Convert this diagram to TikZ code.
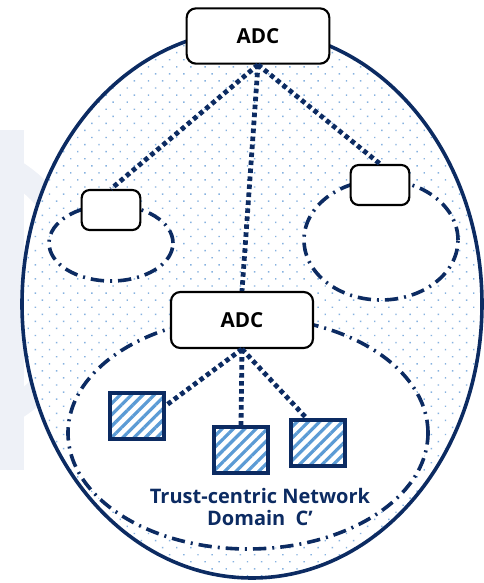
\documentclass[tikz,border=0pt]{standalone}
\usepackage{fontspec}
\setmainfont{Open Sans}
\usepackage{xcolor}
\usepackage{tikz}
\usetikzlibrary{positioning, shapes.geometric, patterns.meta}

\definecolor{navy}{HTML}{0C2B62}
\definecolor{dotblue}{HTML}{86B2E0}
\definecolor{hatchblue}{HTML}{5B9BD5}
\definecolor{wmgray}{HTML}{EEF1F7}

\begin{document}
\begin{tikzpicture}[x=0.75pt, y=-0.75pt, every node/.style={font=\bfseries}]

  \tikzstyle{adcbox}=[draw=black, line width=1.6pt, rounded corners=7pt, fill=white,
    minimum width=107pt, minimum height=41.5pt, inner sep=0pt, font=\bfseries\fontsize{15.5}{18}\selectfont]
  \tikzstyle{leafbox}=[draw=black, line width=1.6pt, rounded corners=6pt, fill=white,
    minimum width=44pt, minimum height=30pt, inner sep=0pt]
  \tikzstyle{device}=[draw=navy, line width=2.8pt, inner sep=0pt,
    preaction={fill=white}, pattern={Lines[angle=45, distance=6pt, line width=2.4pt]}, pattern color=hatchblue]
  \tikzstyle{zone}=[ellipse, draw=navy, line width=2.7pt, fill=white, inner sep=0pt,
    dash pattern=on 10pt off 4.5pt on 1.5pt off 4.5pt]
  \tikzstyle{link}=[draw=navy, line width=3.6pt, dash pattern=on 3.4pt off 2.6pt]

  \useasboundingbox (0,0) rectangle (483,583);

  % faint watermark at the left
  \draw [wmgray, line width=18pt] (-60,290) circle (140);
  \fill [wmgray] (0,130) rectangle (24,470);

  % outer trust domain
  \node [ellipse, draw=navy, line width=2.7pt, inner sep=0pt,
    minimum width=345pt, minimum height=411pt,
    preaction={fill=white}, pattern={Dots[radius=0.75pt, distance=7.5pt, angle=45]}, pattern color=dotblue]
    (outer) at (252,304) {};

  % inner domains
  \node [zone, minimum width=93pt, minimum height=57pt] (zone-l) at (111,243) {};
  \node [zone, minimum width=115.5pt, minimum height=90pt] (zone-r) at (381,240) {};
  \node [zone, minimum width=270pt, minimum height=174pt] (zone-c) at (248,433) {};

  % controllers and nodes
  \node [adcbox] (adc-top) at (258,36) {ADC};
  \node [leafbox] (leaf-l) at (111,210) {};
  \node [leafbox] (leaf-r) at (380,185) {};
  \node [adcbox, minimum width=106.5pt, minimum height=42pt] (adc-mid) at (242,320) {ADC};

  \node [device, minimum width=41pt, minimum height=35pt] (dev-1) at (137,416) {};
  \node [device, minimum width=40pt, minimum height=34.5pt] (dev-2) at (241,450) {};
  \node [device, minimum width=40pt, minimum height=34.5pt] (dev-3) at (318,443) {};

  \node [text=navy, align=center, font=\bfseries\fontsize{15}{16}\selectfont] (label) at (260,507)
    {Trust-centric Network\\ Domain~ C’};

  % links
  \draw [link] (adc-top.south) -- (leaf-l.north);
  \draw [link] (adc-top.south) -- (adc-mid.north);
  \draw [link] (adc-top.south) -- (leaf-r.north);

  \draw [link] (adc-mid.south) -- (dev-1.20);
  \draw [link] (adc-mid.south) -- (dev-2.north);
  \draw [link] (adc-mid.south) -- (dev-3.115);

\end{tikzpicture}
\end{document}
